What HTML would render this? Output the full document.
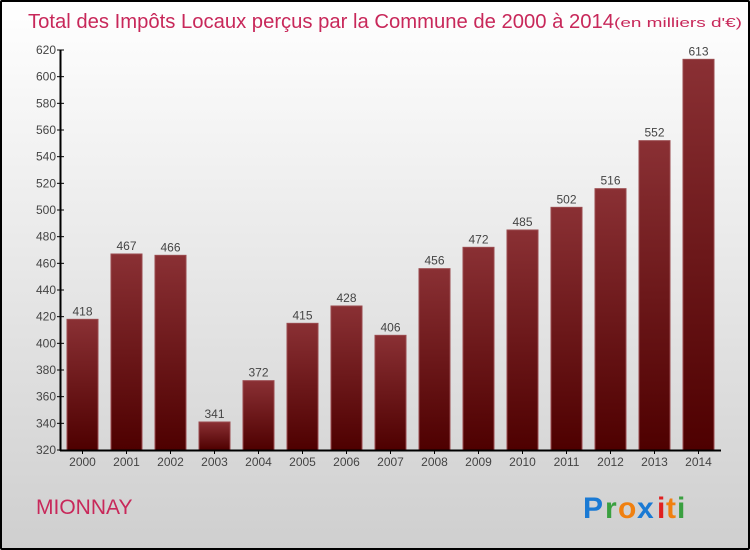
<!DOCTYPE html>
<html><head><meta charset="utf-8"><style>
html,body{margin:0;padding:0}
body{width:750px;height:550px;overflow:hidden;font-family:"Liberation Sans",sans-serif}
#wrap{position:absolute;left:0;top:0;width:746px;height:546px;border:2px solid #000;border-radius:2px;background:linear-gradient(#ffffff,#cfcfcf)}
</style></head><body>
<div id="wrap"></div>
<svg id="chart" width="750" height="550" style="position:absolute;left:0;top:0">
<defs>
<linearGradient id="bg" x1="0" y1="0" x2="0" y2="1"><stop offset="0" stop-color="#8a3034"/><stop offset="1" stop-color="#4e0000"/></linearGradient>
</defs>
<text x="28" y="28" font-size="20.2" fill="#c8285a" textLength="586" lengthAdjust="spacingAndGlyphs">Total des Impôts Locaux perçus par la Commune de 2000 à 2014</text>
<text x="614" y="27" font-size="13" fill="#c8285a" textLength="128" lengthAdjust="spacingAndGlyphs">(en milliers d'€)</text>
<text x="36" y="514" font-size="21" fill="#c8285a">MIONNAY</text>
<g font-size="30" font-weight="bold" font-family="Liberation Sans, sans-serif">
<text x="583" y="518" fill="#1a7ad4">P</text><text x="605" y="518" fill="#3aa040">r</text><text x="618" y="518" fill="#f08010">o</text><text x="637" y="518" fill="#1a7ad4">x</text><text x="657" y="518" fill="#e02020">i</text><text x="666" y="518" fill="#f08010">t</text><text x="677" y="518" fill="#3aa040">i</text>
</g>
<g id="bars"></g>
<g id="axes"></g>
</svg>
<script>
const years=["2000","2001","2002","2003","2004","2005","2006","2007","2008","2009","2010","2011","2012","2013","2014"];
const values=[418,467,466,341,372,415,428,406,456,472,485,502,516,552,613];
const yTicks=[320,340,360,380,400,420,440,460,480,500,520,540,560,580,600,620];
const NS="http://www.w3.org/2000/svg";
const y0=450,y1=50,vmin=320,vmax=620;
const yScale=v=>y0-(v-vmin)/(vmax-vmin)*(y0-y1);
const xScale=i=>82.5+i*44;
const bars=document.getElementById('bars'),axes=document.getElementById('axes');
function mk(t,a,p){const e=document.createElementNS(NS,t);for(const k in a)e.setAttribute(k,a[k]);p.appendChild(e);return e;}
values.forEach((v,i)=>{
 const x=xScale(i),y=yScale(v);
 const r=mk('rect',{x:x-15.5,y:y,width:31,height:y0-y,fill:'url(#bg)',stroke:'#9a4a4e','stroke-width':1},bars);
 
 
 const t=mk('text',{x:x,y:y-4,'text-anchor':'middle','font-size':12,fill:'#444'},bars);
 t.textContent=v;
 
 
 const xl=mk('text',{x:x,y:466,'text-anchor':'middle','font-size':12,fill:'#444'},axes);
 xl.textContent=years[i];
 
 
 mk('line',{x1:x,x2:x,y1:450,y2:454,stroke:'#000'},axes);
});
const ya=mk('line',{x1:60.5,x2:60.5,y1:50,y2:451,stroke:'#000','stroke-width':2},axes);


const xa=mk('line',{x1:60,x2:721,y1:450.5,y2:450.5,stroke:'#000','stroke-width':2},axes);


yTicks.forEach(v=>{
 const y=yScale(v);
 mk('line',{x1:57,x2:64,y1:y,y2:y,stroke:'#000'},axes);
 const t=mk('text',{x:56,y:y+4,'text-anchor':'end','font-size':12,fill:'#444'},axes);
 t.textContent=v;
 
 
});
</script>
</body></html>
